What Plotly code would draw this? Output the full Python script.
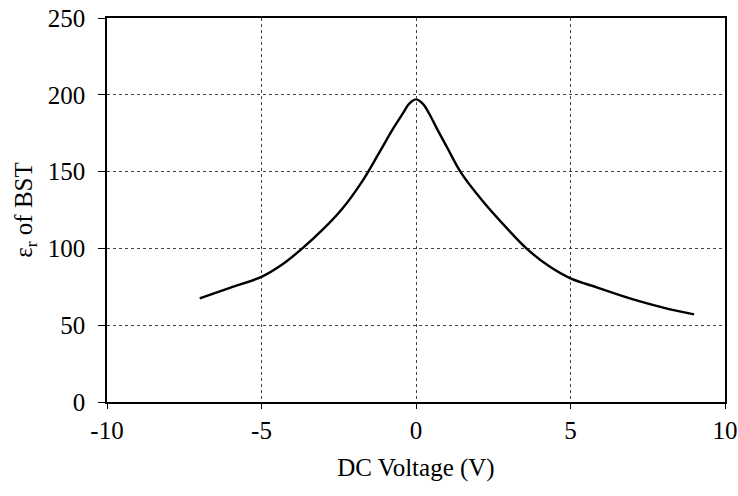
import plotly.graph_objects as go

voltage = [-7.0, -6.0, -5.0, -4.33, -3.68, -3.03, -2.38, -1.73, -1.2, -0.77, -0.42, -0.25, -0.12, 0.0,
           0.12, 0.25, 0.42, 0.69, 1.0, 1.45, 2.15, 2.9, 3.6, 4.3, 5.0, 5.87, 7.0, 8.0, 9.0]
eps_r = [67.5, 74.5, 81.5, 89.5, 100, 112, 126, 144, 162, 177, 188, 193.5, 196, 197,
         196, 193.5, 188, 177.5, 166, 149.5, 131, 114, 99.5, 88.5, 80.5, 74.5, 67, 61.5, 57]

x_ticks = [-10, -5, 0, 5, 10]
y_ticks = [0, 50, 100, 150, 200, 250]

fig = go.Figure()
fig.add_trace(go.Scatter(x=voltage, y=eps_r, mode="lines",
                         line=dict(color="black", width=2.4, shape="spline", smoothing=1.0),
                         showlegend=False, hoverinfo="skip"))

font = dict(family="Liberation Serif, Times New Roman, serif", color="black")
axis_common = dict(showline=True, linecolor="black", linewidth=1.5, mirror=True,
                   showgrid=True, gridcolor="#444", griddash="3px,3px", gridwidth=1,
                   ticks="outside", tickcolor="black", tickwidth=1, zeroline=False,
                   tickfont=dict(size=25, **font))

fig.update_xaxes(range=[-10, 10], tickvals=x_ticks, ticktext=[str(v) for v in x_ticks],
                 ticklen=5,
                 title=dict(text="DC Voltage (V)", font=dict(size=25, **font), standoff=16),
                 **axis_common)
fig.update_yaxes(range=[0, 250], tickvals=y_ticks, ticktext=[str(v) for v in y_ticks],
                 ticklen=7, ticklabelstandoff=8,
                 title=dict(text="ε<sub>r</sub> of BST", font=dict(size=25, **font), standoff=8),
                 **axis_common)

fig.update_layout(width=738, height=496, plot_bgcolor="white", paper_bgcolor="white",
                  margin=dict(l=107, r=13, t=18, b=94, autoexpand=False), font=font)
fig.write_html("out.html", config={"displayModeBar": False},
               post_script="document.body.style.margin='0';document.body.style.overflow='hidden';")
